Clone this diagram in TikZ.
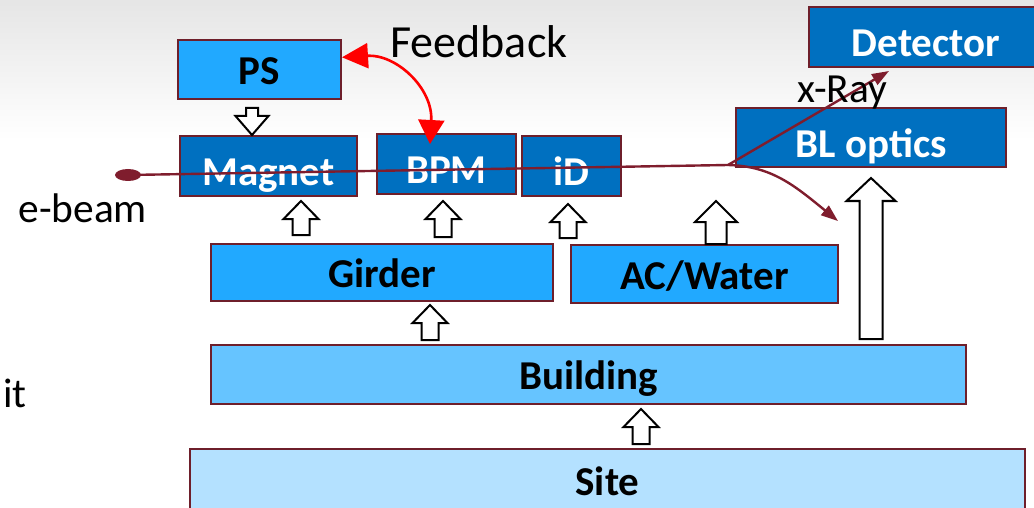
\documentclass[tikz,border=0pt]{standalone}
\usepackage{fontspec}
\setmainfont{Carlito}
\usepackage{xcolor}
\usetikzlibrary{positioning, shapes.geometric, arrows.meta, calc}
\definecolor{rim}{HTML}{6E1F2B}
\definecolor{beam}{HTML}{7F1D2D}
\definecolor{deep}{HTML}{0070C0}
\definecolor{sky}{HTML}{21A9FF}
\definecolor{pale}{HTML}{66C4FF}
\definecolor{mist}{HTML}{B4E1FF}

\tikzset{
  box/.style={rectangle, draw=rim, line width=1pt, inner sep=0pt, text depth=0pt,
              font=\fontsize{20.5}{24}\selectfont\bfseries},
  dark/.style={box, fill=deep, text=white, text height=19.5pt},
  light/.style={box, fill=#1, text=black, text height=15pt},
  lift/.style n args={3}{draw=black, line width=1pt, fill=white,
    to path={let \p1=(\tikztostart), \p2=(\tikztotarget), \n1={sign(\y2-\y1)} in
      (\x1-#1,\y1) -- (\x1-#1,{\y2-(\n1)*#3}) -- (\x1-#2,{\y2-(\n1)*#3}) -- (\x1,\y2)
      -- (\x1+#2,{\y2-(\n1)*#3}) -- (\x1+#1,{\y2-(\n1)*#3}) -- (\x1+#1,\y1) -- cycle}},
  small lift/.style={lift={4.25pt}{8.75pt}{9pt}},
  beamline/.style={draw=beam, line width=1.2pt},
}

\begin{document}
\begin{tikzpicture}[x=0.5pt, y=-0.5pt]
  \useasboundingbox (0,0) rectangle (1034,508);
  \shade[top color=black!10, bottom color=white] (0,0) rectangle (1034,140);

  % Machine blocks
  \node[light=sky, minimum width=81.5pt, minimum height=29.5pt] (ps) at (259.5,69.5) {PS};
  \node[dark, minimum width=88.5pt, minimum height=30pt] (magnet) at (268.5,166) {Magnet};
  \node[dark, minimum width=69.5pt, minimum height=30pt] (bpm) at (446.5,164) {BPM};
  \node[dark, minimum width=49.5pt, minimum height=30pt] (idev) at (571.5,166) {iD};
  \node[dark, minimum width=117pt, minimum height=30pt] (detector) at (926,37) {Detector};
  \node[dark, minimum width=135pt, minimum height=29.5pt] (blopt) at (871,137.5) {BL optics};

  % Support layers
  \node[light=sky, minimum width=171pt, minimum height=28.5pt] (girder) at (382,272.5) {Girder};
  \node[light=sky, minimum width=133.5pt, minimum height=29pt] (acwater) at (704.5,274) {AC/Water};
  \node[light=pale, minimum width=377.5pt, minimum height=29.5pt] (building) at (588.5,374.5) {Building};
  \node[light=mist, minimum width=417.5pt, minimum height=31.5pt] (site) at (607.5,480.5) {Site};

  % Hollow arrows between layers
  \draw[lift={3pt}{8.25pt}{9.5pt}] ($(ps.south -| 252,0)+(0,8)$) to (magnet.north -| 252,0);
  \foreach \x/\dst/\lo/\hi in {301/magnet/-8/4, 443/bpm/-6/6, 568/idev/-5/7}
    \draw[small lift] ($(girder.north -| \x,0)+(0,\lo)$) to ($(\dst.south -| \x,0)+(0,\hi)$);
  \coordinate (acout) at (716,201);
  \draw[lift={5.25pt}{10.5pt}{10.5pt}] (acwater.north -| 716,0) to (acout);
  \draw[small lift] ($(building.north -| 430,0)+(0,-4)$) to ($(girder.south -| 430,0)+(0,3)$);
  \draw[small lift] ($(site.north -| 641,0)+(0,-4)$) to ($(building.south -| 641,0)+(0,4)$);
  \draw[lift={5.75pt}{12.25pt}{11.5pt}] ($(building.north -| 871,0)+(0,-5)$) to ($(blopt.south -| 871,0)+(0,10)$);

  % Electron beam and photon paths
  \node[ellipse, fill=beam, minimum width=13pt, minimum height=6pt, inner sep=0pt] (src) at (128,175) {};
  \coordinate (fork) at (728,165);
  \coordinate (xtip) at (889,71);
  \coordinate (sidetip) at (838,221);
  \draw[beamline] (src.center) -- (fork);
  \draw[beamline, -{Triangle[length=8.5pt, width=6pt]}] (fork) -- (xtip);
  \draw[beamline, -{Triangle[length=8.5pt, width=6pt]}] (fork) .. controls (772,166) and (795,186) .. (sidetip);

  % Feedback loop
  \draw[red, line width=1.3pt, {Triangle[length=13pt, width=12.5pt]}-{Triangle[length=12pt, width=13pt]}]
    ($(ps.north east)!0.3!(ps.south east)$) .. controls (396,54) and (433,88) .. ([xshift=-8.25pt, yshift=-5.5pt]bpm.north);

  % Labels
  \node[anchor=base west, font=\fontsize{23}{27}\selectfont, inner sep=0pt] (fbtext) at (390,58) {Feedback};
  \node[anchor=base west, font=\fontsize{20.7}{24}\selectfont, inner sep=0pt] (ebtext) at (18,222) {e-beam};
  \node[anchor=base west, font=\fontsize{20.7}{24}\selectfont, inner sep=0pt] (xrtext) at (797,103) {x-Ray};
  \node[anchor=base west, font=\fontsize{20.7}{24}\selectfont, inner sep=0pt] (ittext) at (3,407) {it};
\end{tikzpicture}
\end{document}
